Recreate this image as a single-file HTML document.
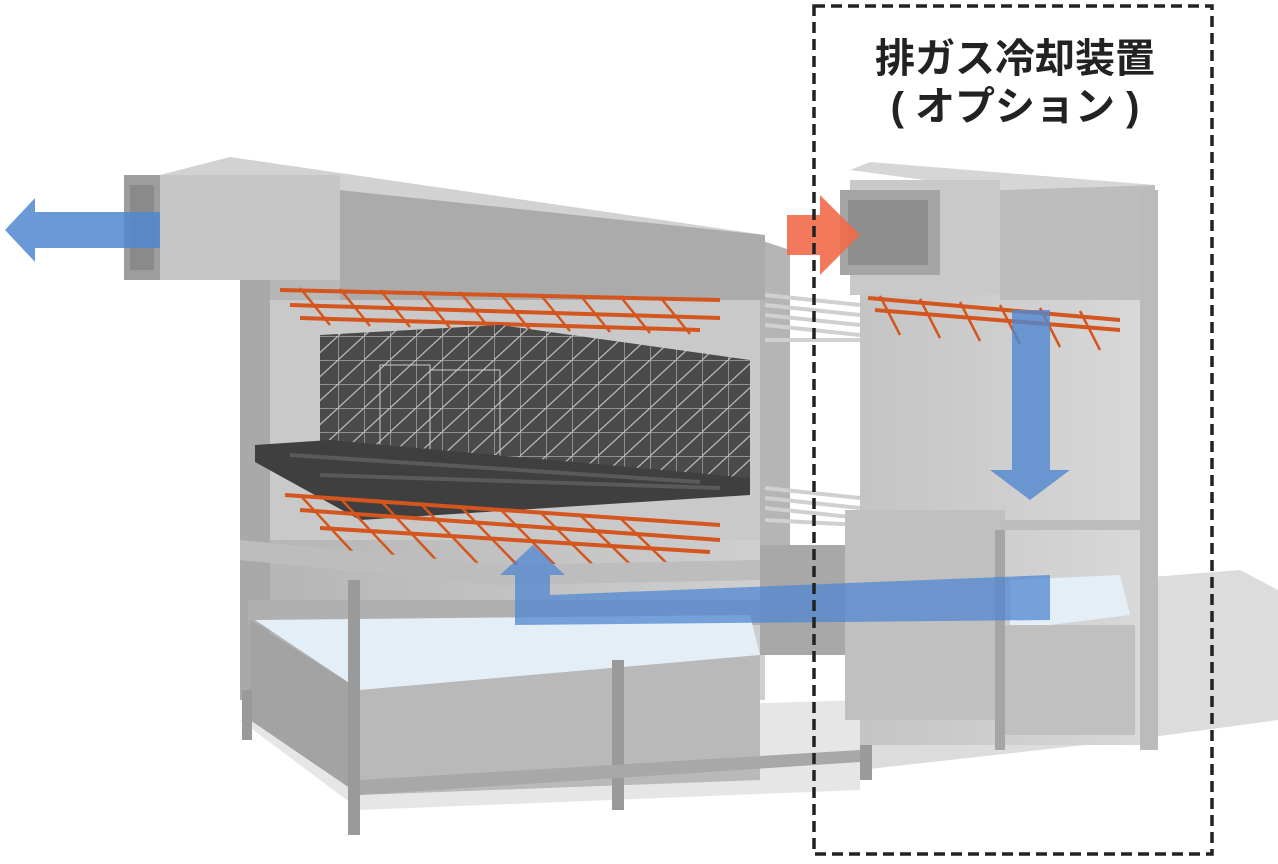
<!DOCTYPE html>
<html><head><meta charset="utf-8"><style>
html,body{margin:0;padding:0;background:#fff;width:1278px;height:864px;overflow:hidden}
svg{display:block}
</style></head><body>
<svg width="1278" height="864" viewBox="0 0 1278 864" xmlns="http://www.w3.org/2000/svg">
<defs>
<linearGradient id="wall" x1="0" x2="1"><stop offset="0" stop-color="#b4b4b4"/><stop offset="1" stop-color="#cfcfcf"/></linearGradient>
<linearGradient id="rwall" x1="0" x2="1"><stop offset="0" stop-color="#c4c4c4"/><stop offset="1" stop-color="#d8d8d8"/></linearGradient>
<pattern id="grid" width="26" height="24" patternUnits="userSpaceOnUse"><rect width="26" height="24" fill="#4a4a4a"/><path d="M0 0H26M0 0V24M0 24L26 0" stroke="#bbb" stroke-width="1.2"/></pattern>
</defs>
<polygon points="860,600 1240,570 1278,590 1278,720 1130,740 860,770" fill="#dcdcdc"/>
<polygon points="240,720 860,700 860,790 360,810" fill="#e6e6e6"/>
<rect x="240" y="280" width="525" height="420" fill="url(#wall)"/>
<rect x="240" y="280" width="30" height="420" fill="#a9a9a9"/>
<rect x="270" y="300" width="490" height="240" fill="#c9c9c9"/>
<polygon points="760,240 790,250 790,650 760,655" fill="#b5b5b5"/>
<polygon points="160,175 230,157 765,235 340,190" fill="#d2d2d2"/>
<polygon points="340,190 765,235 765,300 340,300" fill="#ababab"/>
<rect x="160" y="175" width="180" height="105" fill="#c6c6c6"/>
<rect x="124" y="175" width="36" height="105" fill="#9d9d9d"/>
<rect x="130" y="185" width="24" height="85" fill="#8a8a8a"/>
<g stroke="#d4551e" stroke-width="4">
<line x1="280" y1="290" x2="720" y2="300"/><line x1="290" y1="305" x2="720" y2="318"/>
<line x1="300" y1="318" x2="700" y2="330"/>
</g>
<g stroke="#d4551e" stroke-width="2.5">
<path d="M300 288L330 325M340 289L370 326M380 290L410 327M420 291L450 328M460 292L490 329M500 293L530 330M540 294L570 331M580 295L610 332M620 296L650 333M660 297L690 334"/>
</g>
<polygon points="320,335 500,325 750,360 750,490 320,470" fill="url(#grid)"/>
<rect x="380" y="365" width="50" height="100" fill="url(#grid)" stroke="#ccc"/>
<rect x="430" y="370" width="70" height="100" fill="url(#grid)" stroke="#ccc"/>
<polygon points="255,445 330,440 750,478 750,495 360,520 255,462" fill="#3f3f3f"/>
<g stroke="#5a5a5a" stroke-width="4"><line x1="290" y1="455" x2="700" y2="482"/><line x1="320" y1="475" x2="720" y2="488"/></g>
<g stroke="#d4551e" stroke-width="4">
<line x1="285" y1="495" x2="720" y2="525"/><line x1="300" y1="510" x2="720" y2="540"/>
<line x1="320" y1="528" x2="710" y2="552"/>
</g>
<g stroke="#d4551e" stroke-width="2.5">
<path d="M300 495L360 560M340 498L400 562M380 500L440 564M420 503L480 566M460 506L520 568M500 509L560 570M540 512L600 572M580 515L640 574M620 518L680 576"/>
</g>
<polygon points="240,540 500,565 760,560 760,580 500,585 240,560" fill="#bdbdbd"/>
<rect x="248" y="600" width="512" height="25" fill="#b0b0b0"/>
<polygon points="255,620 750,615 760,655 360,690" fill="#e4eef7"/>
<polygon points="360,690 760,655 760,780 360,795" fill="#b9b9b9"/>
<polygon points="250,620 360,690 360,795 250,720" fill="#a3a3a3"/>
<g fill="#9a9a9a">
<rect x="242" y="690" width="10" height="50"/><rect x="348" y="580" width="12" height="255"/>
<rect x="612" y="660" width="12" height="150"/><rect x="860" y="560" width="12" height="220"/>
</g>
<polygon points="360,780 860,750 860,762 360,795" fill="#a8a8a8"/>
<rect x="760" y="545" width="100" height="110" fill="#a8a8a8"/>
<g stroke="#d0d0d0" stroke-width="4" fill="none">
<path d="M765 295L860 305M765 305L860 315M765 315L860 325M765 325L860 335M765 340L860 340"/>
<path d="M765 488L860 498M765 498L860 508M765 508L860 518M765 520L860 525"/>
</g>
<rect x="860" y="295" width="280" height="450" fill="url(#rwall)"/>
<rect x="845" y="510" width="160" height="210" fill="#c0c0c0"/>
<polygon points="850,170 870,162 1155,185 1000,190" fill="#d6d6d6"/>
<polygon points="1000,190 1155,185 1155,300 1000,300" fill="#bdbdbd"/>
<rect x="850" y="180" width="150" height="115" fill="#c9c9c9"/>
<rect x="840" y="190" width="100" height="85" fill="#a5a5a5"/>
<rect x="848" y="200" width="80" height="65" fill="#8e8e8e"/>
<rect x="1140" y="190" width="18" height="560" fill="#bbb"/>
<g stroke="#d4551e" stroke-width="4">
<line x1="868" y1="298" x2="1120" y2="320"/><line x1="875" y1="310" x2="1120" y2="330"/>
</g>
<g stroke="#d4551e" stroke-width="2.5"><path d="M880 296L900 335M920 299L940 338M960 302L980 341M1000 305L1020 344M1040 308L1060 347M1080 311L1100 350"/></g>
<rect x="1000" y="520" width="140" height="10" fill="#bdbdbd"/>
<polygon points="1010,580 1120,575 1130,615 1010,630" fill="#e4eef7"/>
<rect x="1005" y="625" width="130" height="110" fill="#c0c0c0"/>
<rect x="995" y="530" width="10" height="220" fill="#a5a5a5"/>
<polygon points="5,230 35,198 35,212 160,212 160,248 35,248 35,262" fill="#4f87d0" fill-opacity="0.85"/>
<polygon points="787,215 820,215 820,195 860,235 820,275 820,255 787,255" fill="#f26a4b" fill-opacity="0.9"/>
<polygon points="1012,310 1050,310 1050,470 1070,470 1030,500 990,470 1012,470" fill="#4f87d0" fill-opacity="0.8"/>
<polygon points="515,575 500,575 533,545 565,575 550,575 550,595 1050,575 1050,620 515,625" fill="#4f87d0" fill-opacity="0.75"/>
<rect x="814" y="6" width="398" height="848" fill="none" stroke="#222" stroke-width="3.5" stroke-dasharray="11 6"/>
<text x="1015" y="72" text-anchor="middle" font-family="'Liberation Sans','Noto Sans CJK JP',sans-serif" font-weight="bold" font-size="40" fill="#222">排ガス冷却装置</text>
<text x="1015" y="120" text-anchor="middle" font-family="'Liberation Sans','Noto Sans CJK JP',sans-serif" font-weight="bold" font-size="40" fill="#222">( オプション )</text>
</svg>
</body></html>
